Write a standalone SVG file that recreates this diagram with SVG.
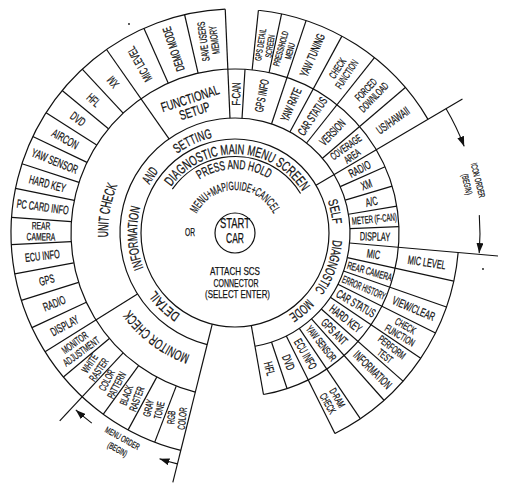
<svg xmlns="http://www.w3.org/2000/svg" width="508" height="492" viewBox="0 0 508 492">
<style>
.ln{stroke:#111;stroke-width:1.2;fill:none}
.ar{stroke:#111;stroke-width:1.1;fill:none}
text{font-family:"Liberation Sans",Arial,sans-serif;fill:#111;stroke:#111;stroke-width:0.25}
.l{font-size:12px;text-anchor:middle;dominant-baseline:central}
.m{font-size:10.5px;text-anchor:middle;dominant-baseline:central}
.n{font-size:9px;text-anchor:middle;dominant-baseline:central}
.k{font-size:13.5px;text-anchor:middle}
.c{text-anchor:middle}
</style>
<defs>
<path id="p79" d="M156,233 A79,79 0 1 1 314,233 A79,79 0 1 1 156,233"/>
<path id="p64" d="M171,233 A64,64 0 1 1 299,233 A64,64 0 1 1 171,233"/>
<path id="p43" d="M192,233 A43,43 0 1 1 278,233 A43,43 0 1 1 192,233"/>
<path id="r2" d="M235,331 A98,98 0 1 1 235,135 A98,98 0 1 1 235,331"/>
<path id="r127" d="M235,360 A127,127 0 1 1 235,106 A127,127 0 1 1 235,360"/>
<path id="r130" d="M235,363 A130,130 0 1 1 235,103 A130,130 0 1 1 235,363"/>
<marker id="ah" viewBox="0 0 10 7" refX="10" refY="3.5" markerWidth="10" markerHeight="7" markerUnits="userSpaceOnUse" orient="auto"><path d="M0,0 L10,3.5 L0,7 Z" fill="#111"/></marker>
</defs>
<rect width="508" height="492" fill="#fff"/>

<g id="rings" class="ln" transform="translate(235,233)">
<circle r="94"/>
<circle r="76.5" pathLength="360" stroke-dasharray="114 246" transform="rotate(215)"/>
<circle r="115" pathLength="360" stroke-dasharray="336 24" transform="rotate(104)"/>
<circle r="164" pathLength="360" stroke-dasharray="336 24" transform="rotate(104)"/>
<circle r="224" pathLength="360" stroke-dasharray="163.5 196.5" transform="rotate(104)"/>
<circle r="224" pathLength="360" stroke-dasharray="53.5 306.5" transform="rotate(276)"/>
<circle r="224" pathLength="360" stroke-dasharray="58.5 301.5" transform="rotate(5)"/>
<line x1="94" x2="257" transform="rotate(104)"/>
<line x1="94" x2="164" transform="rotate(80)"/>
<line x1="94" x2="264" transform="rotate(329.5)"/>
<line x1="115" x2="264" transform="rotate(5)"/>
<line x1="115" x2="224" transform="rotate(148)"/>
<line x1="115" x2="224" transform="rotate(235)"/>
<line x1="115" x2="224" transform="rotate(267.5)"/>
<line x1="115" x2="164" transform="rotate(273.5)"/>
<line x1="164" x2="224" transform="rotate(246)"/>
<line x1="164" x2="224" transform="rotate(257)"/>
<line x1="164" x2="224" transform="rotate(227)"/>
<line x1="164" x2="224" transform="rotate(219.5)"/>
<line x1="164" x2="224" transform="rotate(212.5)"/>
<line x1="164" x2="224" transform="rotate(205.5)"/>
<line x1="164" x2="224" transform="rotate(198)"/>
<line x1="164" x2="224" transform="rotate(191.5)"/>
<line x1="164" x2="224" transform="rotate(184)"/>
<line x1="164" x2="224" transform="rotate(177)"/>
<line x1="164" x2="224" transform="rotate(169.5)"/>
<line x1="164" x2="224" transform="rotate(162.5)"/>
<line x1="164" x2="224" transform="rotate(155)"/>
<line x1="164" x2="224" transform="rotate(140)"/>
<line x1="164" x2="257" transform="rotate(133)"/>
<line x1="164" x2="224" transform="rotate(126)"/>
<line x1="164" x2="224" transform="rotate(118.5)"/>
<line x1="164" x2="224" transform="rotate(111)"/>
<line x1="164" x2="224" transform="rotate(276)"/>
<line x1="164" x2="224" transform="rotate(282)"/>
<line x1="115" x2="224" transform="rotate(288.5)"/>
<line x1="115" x2="224" transform="rotate(298.5)"/>
<line x1="115" x2="224" transform="rotate(308.5)"/>
<line x1="115" x2="224" transform="rotate(319.5)"/>
<line x1="115" x2="164" transform="rotate(336.2)"/>
<line x1="115" x2="164" transform="rotate(343.4)"/>
<line x1="115" x2="164" transform="rotate(350.6)"/>
<line x1="115" x2="164" transform="rotate(357.8)"/>
<line x1="115" x2="224" transform="rotate(12.4)"/>
<line x1="115" x2="224" transform="rotate(19.3)"/>
<line x1="115" x2="224" transform="rotate(26.5)"/>
<line x1="115" x2="224" transform="rotate(34)"/>
<line x1="115" x2="224" transform="rotate(41.4)"/>
<line x1="115" x2="224" transform="rotate(48.3)"/>
<line x1="115" x2="224" transform="rotate(56)"/>
<line x1="115" x2="224" transform="rotate(63.5)"/>
<line x1="115" x2="164" transform="rotate(71.5)"/>
</g>

<g id="start">
<circle cx="235" cy="233" r="20" class="ln"/>
<text class="c" x="235" y="228" font-size="14" textLength="30" lengthAdjust="spacingAndGlyphs">START</text>
<text class="c" x="235" y="243" font-size="14" textLength="18" lengthAdjust="spacingAndGlyphs">CAR</text>
</g>

<g id="main-menu">
<text font-size="14" class="c"><textPath href="#p79" startOffset="126.9" textLength="155" lengthAdjust="spacingAndGlyphs">DIAGNOSTIC MAIN MENU SCREEN</textPath></text>
<text font-size="13" class="c"><textPath href="#p64" startOffset="99.4" textLength="73" lengthAdjust="spacingAndGlyphs">PRESS AND HOLD</textPath></text>
<text font-size="12" class="c"><textPath href="#p43" startOffset="67.5" textLength="95" lengthAdjust="spacingAndGlyphs">MENU+MAP/GUIDE+CANCEL</textPath></text>
<text x="190" y="236" font-size="11" class="c" textLength="10" lengthAdjust="spacingAndGlyphs">OR</text>
<text x="235" y="275" font-size="11.5" class="c" textLength="50" lengthAdjust="spacingAndGlyphs">ATTACH SCS</text>
<text x="236" y="286.5" font-size="11.5" class="c" textLength="45" lengthAdjust="spacingAndGlyphs">CONNECTOR</text>
<text x="237.5" y="298" font-size="11.5" class="c" textLength="65" lengthAdjust="spacingAndGlyphs">(SELECT ENTER)</text>
</g>

<g id="info-setting">
<text class="k"><textPath href="#r2" startOffset="75.3" textLength="35" lengthAdjust="spacingAndGlyphs">DETAIL</textPath></text>
<text class="k"><textPath href="#r2" startOffset="148.8" textLength="62" lengthAdjust="spacingAndGlyphs">INFORMATION</textPath></text>
<text class="k"><textPath href="#r2" startOffset="212.1" textLength="16" lengthAdjust="spacingAndGlyphs">AND</textPath></text>
<text class="k"><textPath href="#r2" startOffset="265.1" textLength="39" lengthAdjust="spacingAndGlyphs">SETTING</textPath></text>
</g>

<g id="self-diagnostic">
<text class="k"><textPath href="#r2" startOffset="440.3" textLength="24" lengthAdjust="spacingAndGlyphs">SELF</textPath></text>
<text class="k"><textPath href="#r2" startOffset="495.2" textLength="54" lengthAdjust="spacingAndGlyphs">DIAGNOSTIC</textPath></text>
<text class="k"><textPath href="#r2" startOffset="545.6" textLength="25" lengthAdjust="spacingAndGlyphs">MODE</textPath></text>
</g>

<g id="unit-check">
<text font-size="14.5" class="c"><textPath href="#r127" startOffset="221.7" textLength="53" lengthAdjust="spacingAndGlyphs">UNIT CHECK</textPath></text>
<g transform="translate(235,233)">
<text class="l" transform="rotate(151.5) translate(194,0) rotate(180) scale(.61,1)">DISPLAY</text>
<text class="l" transform="rotate(158.75) translate(194,0) rotate(180) scale(.61,1)">RADIO</text>
<text class="l" transform="rotate(166) translate(194,0) rotate(180) scale(.61,1)">GPS</text>
<text class="l" transform="rotate(173.25) translate(194,0) rotate(180) scale(.61,1)">ECU INFO</text>
<text class="m" transform="rotate(180.5) translate(194,0) rotate(180) scale(.64,1)"><tspan x="0" y="-5.5">REAR</tspan><tspan x="0" y="5.5">CAMERA</tspan></text>
<text class="l" transform="rotate(187.75) translate(194,0) rotate(180) scale(.61,1)">PC CARD INFO</text>
<text class="l" transform="rotate(194.75) translate(194,0) rotate(180) scale(.61,1)">HARD KEY</text>
<text class="l" transform="rotate(201.75) translate(194,0) rotate(180) scale(.61,1)">YAW SENSOR</text>
<text class="l" transform="rotate(209) translate(194,0) rotate(180) scale(.61,1)">AIRCON</text>
<text class="l" transform="rotate(216) translate(194,0) rotate(180) scale(.61,1)">DVD</text>
<text class="l" transform="rotate(223.25) translate(194,0) rotate(180) scale(.61,1)">HFL</text>
<text class="l" transform="rotate(231) translate(194,0) scale(.61,1)">XM</text>
<text class="l" transform="rotate(240.5) translate(194,0) scale(.61,1)">MIC LEVEL</text>
</g>
</g>

<g id="monitor-check">
<text font-size="14" class="c"><textPath href="#r130" startOffset="84" textLength="76" lengthAdjust="spacingAndGlyphs">MONITOR CHECK</textPath></text>
<g transform="translate(235,233)">
<text class="m" transform="rotate(144) translate(194,0) rotate(180) scale(.6,1)"><tspan x="0" y="-5.5">MONITOR</tspan><tspan x="0" y="5.5">ADJUSTMENT</tspan></text>
<text class="m" transform="rotate(136.5) translate(194,0) rotate(168) scale(.6,1)"><tspan x="0" y="-5.5">WHITE</tspan><tspan x="0" y="5.5">RASTER</tspan></text>
<text class="m" transform="rotate(129.5) translate(194,0) rotate(168) scale(.6,1)"><tspan x="0" y="-5.5">COLOR</tspan><tspan x="0" y="5.5">PATTERN</tspan></text>
<text class="m" transform="rotate(122.25) translate(194,0) rotate(168) scale(.6,1)"><tspan x="0" y="-5.5">BLACK</tspan><tspan x="0" y="5.5">RASTER</tspan></text>
<text class="m" transform="rotate(114.75) translate(194,0) rotate(168) scale(.6,1)"><tspan x="0" y="-5.5">GRAY</tspan><tspan x="0" y="5.5">TONE</tspan></text>
<text class="m" transform="rotate(107.5) translate(194,0) rotate(168) scale(.6,1)"><tspan x="0" y="-5.5">RGB</tspan><tspan x="0" y="5.5">COLOR</tspan></text>
</g>
</g>

<g id="functional-setup" transform="translate(235,233)">
<text class="c" font-size="13.5" transform="translate(-43.5,-130) rotate(-18) scale(.7,1)">FUNCTIONAL</text>
<text class="c" font-size="13.5" transform="translate(-39,-117.5) rotate(-18) scale(.7,1)">SETUP</text>
<text class="l" transform="rotate(251.5) translate(194,0) scale(.61,1)">DEMO MODE</text>
<text class="m" transform="rotate(262.25) translate(194,0) scale(.6,1)"><tspan x="0" y="-5.5">SAVE USERS</tspan><tspan x="0" y="5.5">MEMORY</tspan></text>
<text class="l" transform="rotate(270.5) translate(139,0) scale(.63,1)">F-CAN</text>
</g>

<g id="self-items" transform="translate(235,233)">
<text class="l" transform="rotate(281) translate(140,0) scale(.58,1)">GPS INFO</text>
<text class="l" transform="rotate(293.5) translate(140,0) scale(.58,1)">YAW RATE</text>
<text class="l" transform="rotate(303.5) translate(140,0) scale(.58,1)">CAR STATUS</text>
<text class="l" transform="rotate(314) translate(140,0) scale(.58,1)">VERSION</text>
<text class="m" transform="rotate(324.5) translate(140,0) scale(.6,1)"><tspan x="0" y="-5.5">COVERAGE</tspan><tspan x="0" y="5.5">AREA</tspan></text>
<text class="l" transform="rotate(332.8) translate(140,0) scale(.61,1)">RADIO</text>
<text class="l" transform="rotate(339.8) translate(140,0) scale(.61,1)">XM</text>
<text class="l" transform="rotate(347) translate(140,0) scale(.61,1)">A/C</text>
<text class="m" transform="rotate(354.2) translate(140,0) scale(.57,1)">METER (F-CAN)</text>
<text class="l" transform="rotate(1.4) translate(140,0) scale(.61,1)">DISPLAY</text>
<text class="l" transform="rotate(8.7) translate(140,0) scale(.61,1)">MIC</text>
<text class="m" transform="rotate(15.9) translate(140,0) scale(.6,1)">REAR CAMERA</text>
<text class="m" transform="rotate(22.9) translate(140,0) scale(.53,1)">ERROR HISTORY</text>
<text class="l" transform="rotate(30.2) translate(140,0) scale(.58,1)">CAR STATUS</text>
<text class="l" transform="rotate(37.7) translate(140,0) scale(.61,1)">HARD KEY</text>
<text class="l" transform="rotate(44.8) translate(140,0) scale(.61,1)">GPS ANT</text>
<text class="m" transform="rotate(52) translate(140,0) scale(.6,1)">YAW SENSOR</text>
<text class="l" transform="rotate(59.7) translate(140,0) scale(.58,1)">ECU INFO</text>
<text class="l" transform="rotate(67.5) translate(140,0) scale(.61,1)">DVD</text>
<text class="l" transform="rotate(75.7) translate(140,0) scale(.61,1)">HFL</text>
<text class="n" transform="rotate(279) translate(190,0) scale(.62,1)"><tspan x="0" y="-4.7">GPS DETAIL</tspan><tspan x="0" y="4.7">SCREEN</tspan></text>
<text class="n" transform="rotate(285.2) translate(190,0) scale(.62,1)"><tspan x="0" y="-4.7">PRESS/HOLD</tspan><tspan x="0" y="4.7">MENU</tspan></text>
<text class="l" transform="rotate(293.5) translate(194,0) scale(.61,1)">YAW TUNING</text>
<text class="m" transform="rotate(303.5) translate(194,0) scale(.6,1)"><tspan x="0" y="-5.5">CHECK</tspan><tspan x="0" y="5.5">FUNCTION</tspan></text>
<text class="m" transform="rotate(314) translate(194,0) scale(.6,1)"><tspan x="0" y="-5.5">FORCED</tspan><tspan x="0" y="5.5">DOWNLOAD</tspan></text>
<text class="l" transform="rotate(324.5) translate(194,0) scale(.61,1)">US/HAWAII</text>
<text class="l" transform="rotate(8.7) translate(194,0) scale(.61,1)">MIC LEVEL</text>
<text class="l" transform="rotate(22.9) translate(194,0) scale(.61,1)">VIEW/CLEAR</text>
<text class="m" transform="rotate(30.2) translate(194,0) scale(.6,1)"><tspan x="0" y="-5.5">CHECK</tspan><tspan x="0" y="5.5">FUNCTION</tspan></text>
<text class="m" transform="rotate(37.7) translate(194,0) scale(.6,1)"><tspan x="0" y="-5.5">PERFORM</tspan><tspan x="0" y="5.5">TEST</tspan></text>
<text class="l" transform="rotate(44.8) translate(194,0) scale(.58,1)">INFORMATION</text>
<text class="m" transform="rotate(59.8) translate(194,0) scale(.6,1)"><tspan x="0" y="-5.5">D-RAM</tspan><tspan x="0" y="5.5">CHECK</tspan></text>
</g>

<g id="connectors">
<path class="ar" d="M446.1,108.7 A245,245 0 0 1 464.2,146.4" marker-end="url(#ah)"/>
<path class="ar" d="M479.3,215.1 A245,245 0 0 1 479.2,253.1" marker-end="url(#ah)"/>
<path class="ar" d="M177.4,463.9 A238,238 0 0 1 159.5,458.7" marker-end="url(#ah)"/>
<path class="ar" d="M91.8,423.1 A238,238 0 0 1 75.8,409.9" marker-end="url(#ah)"/>
</g>

<g id="order-labels">
<text font-size="9" class="c" transform="translate(475,181) rotate(76) scale(.62,1)">ICON ORDER</text>
<text font-size="9" class="c" transform="translate(464,185) rotate(76) scale(.62,1)">(BEGIN)</text>
<text font-size="9" class="c" transform="translate(121,441) rotate(29) scale(.62,1)">MENU ORDER</text>
<text font-size="9" class="c" transform="translate(116,452) rotate(29) scale(.62,1)">(BEGIN)</text>
<circle cx="483" cy="269" r="0.9" fill="#111"/>
<circle cx="129" cy="24" r="0.9" fill="#111"/>
</g>
</svg>
